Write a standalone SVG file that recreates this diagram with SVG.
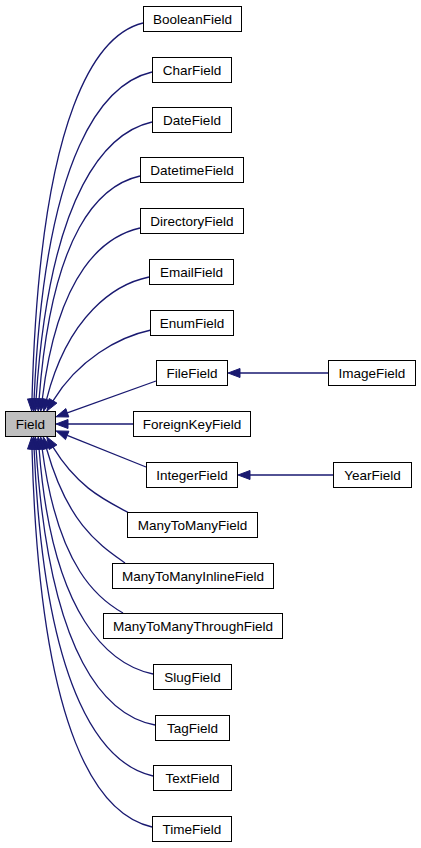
<svg xmlns="http://www.w3.org/2000/svg" width="421" height="848" viewBox="0 0 421 848">
<style>
.n rect{fill:#ffffff;stroke:#000000;stroke-width:1}
#field rect{fill:#bfbfbf}
.n text{font-family:"Liberation Sans",Arial,Helvetica,sans-serif;font-size:13.5px;text-anchor:middle;fill:#000000}
#edges path{fill:none;stroke:#191970;stroke-width:1.3}
#edges polygon{fill:#191970;stroke:#191970;stroke-width:1}
</style>
<rect width="421" height="848" fill="#ffffff"/>
<g id="edges">
<path d="M143,23 C98,34 40,108 32,399"/><polygon points="36.5,399.1 31.7,411 27.5,398.9"/>
<path d="M152,72 C105,83 45,148 34.1,399"/><polygon points="38.6,399.2 33.6,411 29.6,398.8"/>
<path d="M152,122 C108,132 50,188 36.1,399"/><polygon points="40.6,399.3 35.3,411 31.6,398.7"/>
<path d="M140,176 C100,185 52,230 39.1,399"/><polygon points="43.6,399.3 38.2,411 34.6,398.7"/>
<path d="M140,228 C105,236 58,270 42.3,399"/><polygon points="46.8,399.5 40.8,410.9 37.8,398.5"/>
<path d="M149,277 C115,284 68,315 46.5,399.6"/><polygon points="50.9,400.7 43.6,411.2 42.1,398.5"/>
<path d="M151,330 C118,337 78,360 53,400.8"/><polygon points="56.9,403.1 46.8,411.1 49.2,398.5"/>
<path d="M156,381 L67.3,412.8"/><polygon points="68.8,417 56,416.8 65.8,408.6"/>
<path d="M133,424 L68,424"/><polygon points="68,419.5 56,424 68,428.5"/>
<path d="M146,467 L67.2,435.4"/><polygon points="68.9,431.2 56.1,430.9 65.5,439.6"/>
<path d="M129,513 C105,500 78,488 53,447.2"/><polygon points="56.9,444.9 46.8,436.9 49.2,449.5"/>
<path d="M125,563 C100,545 68,525 46.5,448.5"/><polygon points="50.8,447.3 43.3,436.9 42.2,449.7"/>
<path d="M123,613 C100,600 58,570 42.2,449"/><polygon points="46.7,448.4 40.7,437.1 37.7,449.6"/>
<path d="M153,674 C110,665 52,618 39.1,449"/><polygon points="43.6,448.7 38.2,437 34.6,449.3"/>
<path d="M155,725 C107,716 50,660 36.1,449"/><polygon points="40.6,448.7 35.3,437 31.6,449.3"/>
<path d="M153,776 C105,765 45,700 34.1,449"/><polygon points="38.6,448.8 33.6,437 29.6,449.2"/>
<path d="M152,827 C100,815 40,740 32,449"/><polygon points="36.5,448.9 31.7,437 27.5,449.1"/>
<path d="M328,373 L240,373"/><polygon points="240,368.5 228,373 240,377.5"/>
<path d="M333,475 L250,475"/><polygon points="250,470.5 238,475 250,479.5"/>
</g>
<g id="field" class="n"><rect x="5.5" y="411.5" width="50" height="25"/><text x="30.5" y="428.5">Field</text></g>
<g id="booleanfield" class="n"><rect x="143.5" y="6.5" width="98" height="25"/><text x="192.5" y="23.5">BooleanField</text></g>
<g id="charfield" class="n"><rect x="152.5" y="57.5" width="79" height="25"/><text x="192" y="74.5">CharField</text></g>
<g id="datefield" class="n"><rect x="152.5" y="107.5" width="79" height="25"/><text x="192" y="124.5">DateField</text></g>
<g id="datetimefield" class="n"><rect x="140.5" y="157.5" width="103" height="25"/><text x="192" y="174.5">DatetimeField</text></g>
<g id="directoryfield" class="n"><rect x="140.5" y="208.5" width="103" height="25"/><text x="192" y="225.5">DirectoryField</text></g>
<g id="emailfield" class="n"><rect x="149.5" y="259.5" width="84" height="25"/><text x="191.5" y="276.5">EmailField</text></g>
<g id="enumfield" class="n"><rect x="150.5" y="310.5" width="83" height="25"/><text x="192" y="327.5">EnumField</text></g>
<g id="filefield" class="n"><rect x="156.5" y="360.5" width="71" height="25"/><text x="192" y="377.5">FileField</text></g>
<g id="foreignkeyfield" class="n"><rect x="133.5" y="411.5" width="117" height="25"/><text x="192" y="428.5">ForeignKeyField</text></g>
<g id="integerfield" class="n"><rect x="146.5" y="462.5" width="91" height="25"/><text x="192" y="479.5">IntegerField</text></g>
<g id="imagefield" class="n"><rect x="328.5" y="360.5" width="87" height="25"/><text x="372" y="377.5">ImageField</text></g>
<g id="yearfield" class="n"><rect x="333.5" y="462.5" width="78" height="25"/><text x="372.5" y="479.5">YearField</text></g>
<g id="manytomanyfield" class="n"><rect x="127.5" y="512.5" width="130" height="25"/><text x="192.5" y="529.5">ManyToManyField</text></g>
<g id="manytomanyinlinefield" class="n"><rect x="112.5" y="563.5" width="161" height="25"/><text x="193" y="580.5">ManyToManyInlineField</text></g>
<g id="manytomanythroughfield" class="n"><rect x="103.5" y="613.5" width="179" height="25"/><text x="193" y="630.5">ManyToManyThroughField</text></g>
<g id="slugfield" class="n"><rect x="153.5" y="664.5" width="78" height="25"/><text x="192.5" y="681.5">SlugField</text></g>
<g id="tagfield" class="n"><rect x="155.5" y="715.5" width="74" height="25"/><text x="192.5" y="732.5">TagField</text></g>
<g id="textfield" class="n"><rect x="153.5" y="765.5" width="78" height="25"/><text x="192.5" y="782.5">TextField</text></g>
<g id="timefield" class="n"><rect x="152.5" y="816.5" width="79" height="25"/><text x="192" y="833.5">TimeField</text></g>
</svg>
